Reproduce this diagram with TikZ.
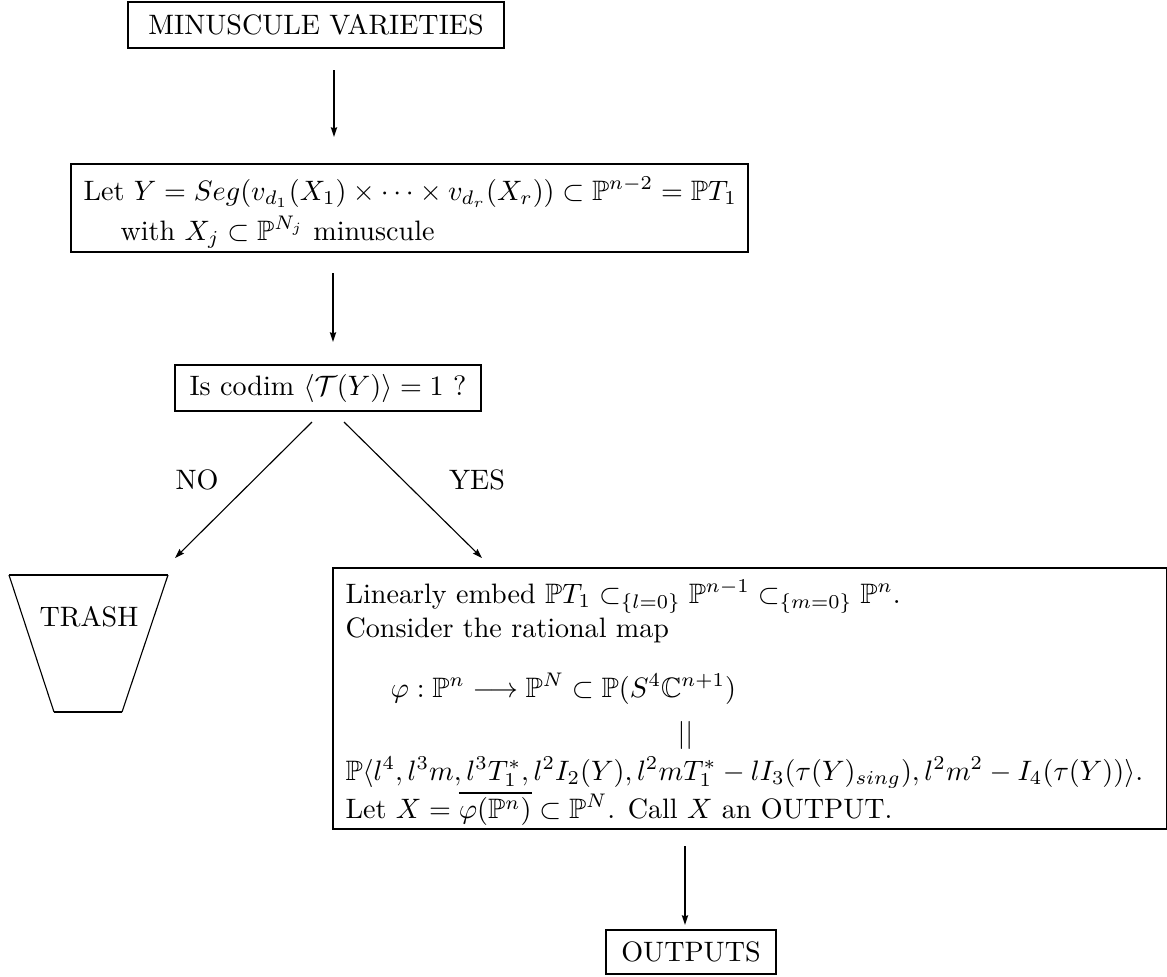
\documentclass[tikz,border=0pt]{standalone}
\usepackage{amssymb}
\usetikzlibrary{arrows.meta}
\newdimen\pxu \pxu=0.3559pt
\begin{document}
\begin{tikzpicture}[x=0.3559pt,y=-0.3559pt,
  box/.style={draw, line width=0.8pt, inner sep=0pt},
  arr/.style={-{Stealth[length=3.4pt,width=2.2pt,inset=0.4pt]}, line width=0.6pt},
  darr/.style={-{Stealth[length=3.4pt,width=2.2pt,inset=0.4pt]}, line width=0.4pt},
  txt/.style={inner sep=0pt, anchor=base west},
  heavy edge/.style={line width=0.8pt},
  light edge/.style={line width=0.4pt}]
\useasboundingbox (0,0) rectangle (1167,976);
% boxes
\node[box, minimum width=376\pxu, minimum height=46\pxu] (A) at (316,25) {MINUSCULE VARIETIES};
\node[box, minimum width=677\pxu, minimum height=88\pxu] (B) at (409.5,208) {};
\node[txt] (B1) at (83,200) {Let $Y = Seg(v_{d_1}(X_1)\times\cdots\times v_{d_r}(X_r)) \subset \mathbb{P}^{n-2} = \mathbb{P}T_1$};
\node[txt] (B2) at (120,240) {with $X_j \subset \mathbb{P}^{N_j}$ minuscule};
\node[box, minimum width=306\pxu, minimum height=46\pxu] (C) at (328,388) {Is codim $\langle \mathcal{T}(Y)\rangle = 1$ ?};
\node[box, minimum width=834\pxu, minimum height=261\pxu] (D) at (750,698.5) {};
\node[txt] (D1) at (345,603) {Linearly embed $\mathbb{P}T_1 \subset_{\{l=0\}} \mathbb{P}^{n-1} \subset_{\{m=0\}} \mathbb{P}^n$.};
\node[txt] (D2) at (345,637) {Consider the rational map};
\node[txt] (D3) at (390,697) {$\varphi : \mathbb{P}^n \longrightarrow \mathbb{P}^N \subset \mathbb{P}(S^4\mathbb{C}^{n+1})$};
\node[txt] (D4) at (677,742) {$||$};
\node[txt] (D5) at (345,780) {$\mathbb{P}\langle l^4, l^3m, l^3T_1^*, l^2I_2(Y), l^2mT_1^* - lI_3(\tau(Y)_{sing}), l^2m^2 - I_4(\tau(Y))\rangle$.};
\node[txt] (D6) at (345,818) {Let $X = \overline{\varphi(\mathbb{P}^n)} \subset \mathbb{P}^N$. Call $X$ an OUTPUT.};
\node[box, minimum width=170\pxu, minimum height=44\pxu] (O) at (691,952) {OUTPUTS};
% trash
\coordinate (t1) at (9,575);
\coordinate (t2) at (168,575);
\coordinate (t3) at (122,712);
\coordinate (t4) at (54,712);
\draw[heavy edge] (t1) -- (t2);
\draw[light edge] (t2) -- (t3);
\draw[heavy edge] (t3) -- (t4);
\draw[light edge] (t4) -- (t1);
\node (T) at (89,617) {TRASH};
% arrows
\coordinate (a1) at (334,70);
\coordinate (a2) at (333,273);
\coordinate (a3) at (685,846);
\draw[arr, shorten >=26\pxu] (a1) -- (a1 |- B.north);
\draw[arr, shorten >=22\pxu] (a2) -- (a2 |- C.north);
\draw[arr, shorten >=4\pxu] (a3) -- (a3 |- O.north);
\coordinate (nS) at (312,422);
\coordinate (nE) at (175,558);
\coordinate (yS) at (344,422);
\coordinate (yE) at (482,558);
\draw[darr] (nS) -- (nE);
\draw[darr] (yS) -- (yE);
\node (NO) at (197,480) {NO};
\node (YES) at (477,480) {YES};
\end{tikzpicture}
\end{document}
